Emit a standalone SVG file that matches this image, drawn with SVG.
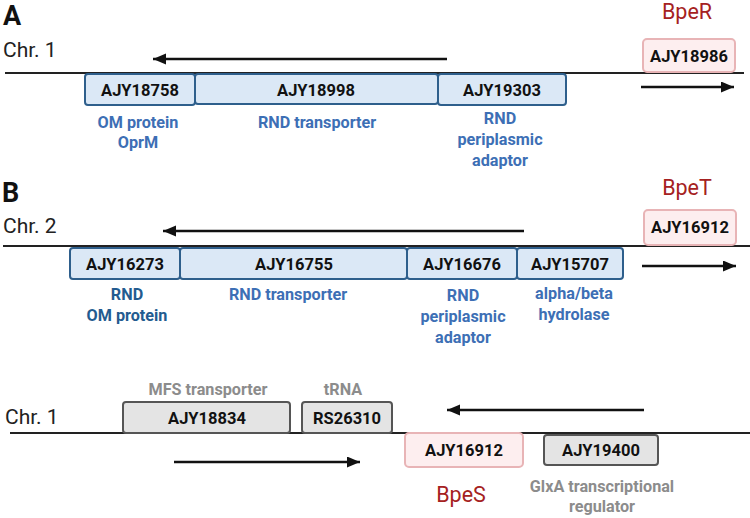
<svg xmlns="http://www.w3.org/2000/svg" width="750" height="518" viewBox="0 0 750 518">
<defs>
<style>
text{font-family:Roboto,"Liberation Sans",Arial,sans-serif}
.panel{font-size:27px;font-weight:bold;fill:#111}
.chr{font-size:21px;fill:#222}
.chrline{stroke:#222;stroke-width:2.2;fill:none}
.arr{stroke:#111;stroke-width:2.6;fill:none;marker-end:url(#ah)}
.blue{fill:#dbe8f6;stroke:#2e5f8c;stroke-width:2}
.pink{fill:#fdeeef;stroke:#e8b4b6;stroke-width:2}
.gray{fill:#e4e4e4;stroke:#555;stroke-width:2}
.bl{font-size:16.5px;font-weight:bold;fill:#111;text-anchor:middle}
.lab{font-size:16.2px;font-weight:bold;fill:#3d6fb5;text-anchor:middle}
.labd{font-size:16.2px;font-weight:bold;fill:#235b8f;text-anchor:middle}
.labg{font-size:16.2px;font-weight:bold;fill:#8c8c8c;text-anchor:middle}
.red{font-size:21.5px;fill:#a52121;text-anchor:middle}
</style>
<marker id="ah" markerUnits="userSpaceOnUse" markerWidth="14" markerHeight="12" refX="13" refY="5.5" orient="auto">
<path d="M0,0 L13,5.5 L0,11 z" fill="#111"/>
</marker>
</defs>
<rect width="750" height="518" fill="#fff"/>

<!-- Panel A -->
<text class="panel" x="3" y="25">A</text>
<text class="chr" x="3" y="57">Chr. 1</text>
<line class="chrline" x1="5" y1="73" x2="744" y2="73"/>

<g id="connectors">
<line class="arr" x1="447" y1="59" x2="153" y2="59"/>
<line class="arr" x1="641" y1="87" x2="734" y2="87"/>
<line class="arr" x1="524" y1="231" x2="163" y2="231"/>
<line class="arr" x1="642" y1="266" x2="736" y2="266"/>
<line class="arr" x1="644" y1="410" x2="447" y2="410"/>
<line class="arr" x1="174" y1="462" x2="360" y2="462"/>
</g>

<g id="AJY18758"><rect class="blue" x="85" y="74" width="110" height="31" rx="3"/><text class="bl" x="140" y="96">AJY18758</text></g>
<g id="AJY18998"><rect class="blue" x="195" y="74" width="243" height="30" rx="3"/><text class="bl" x="316" y="96">AJY18998</text></g>
<g id="AJY19303"><rect class="blue" x="438" y="74" width="128" height="31" rx="3"/><text class="bl" x="502" y="96">AJY19303</text></g>
<g id="AJY18986"><rect class="pink" x="643" y="39" width="92" height="33" rx="4"/><text class="bl" x="689" y="62">AJY18986</text></g>
<text class="red" x="687" y="19">BpeR</text>
<text class="lab" x="138" y="128">OM protein</text>
<text class="lab" x="138" y="148">OprM</text>
<text class="lab" x="317" y="128">RND transporter</text>
<text class="lab" x="500" y="124">RND</text>
<text class="lab" x="500" y="145">periplasmic</text>
<text class="lab" x="500" y="166">adaptor</text>

<!-- Panel B -->
<text class="panel" x="2" y="202">B</text>
<text class="chr" x="3" y="233">Chr. 2</text>
<line class="chrline" x1="3" y1="246" x2="750" y2="246"/>

<g id="AJY16273"><rect class="blue" x="70" y="248" width="110" height="31" rx="3"/><text class="bl" x="125" y="270">AJY16273</text></g>
<g id="AJY16755"><rect class="blue" x="180" y="248" width="227" height="31" rx="3"/><text class="bl" x="294" y="270">AJY16755</text></g>
<g id="AJY16676"><rect class="blue" x="407" y="248" width="110" height="31" rx="3"/><text class="bl" x="462" y="270">AJY16676</text></g>
<g id="AJY15707"><rect class="blue" x="517" y="248" width="106" height="31" rx="3"/><text class="bl" x="570" y="270">AJY15707</text></g>
<g id="AJY16912_T"><rect class="pink" x="644" y="210" width="92" height="35" rx="4"/><text class="bl" x="690" y="233">AJY16912</text></g>
<text class="red" x="687" y="195">BpeT</text>
<text class="labd" x="127" y="300">RND</text>
<text class="labd" x="127" y="321">OM protein</text>
<text class="lab" x="288" y="300">RND transporter</text>
<text class="lab" x="463" y="301">RND</text>
<text class="lab" x="463" y="322">periplasmic</text>
<text class="lab" x="463" y="343">adaptor</text>
<text class="lab" x="574" y="299">alpha/beta</text>
<text class="lab" x="574" y="320">hydrolase</text>

<!-- Bottom Chr. 1 -->
<text class="chr" x="5" y="424">Chr. 1</text>
<line class="chrline" x1="10" y1="433" x2="750" y2="433"/>
<g id="AJY18834"><rect class="gray" x="123" y="402" width="167" height="31" rx="3"/><text class="bl" x="207" y="424">AJY18834</text></g>
<g id="RS26310"><rect class="gray" x="302" y="402" width="90" height="31" rx="3"/><text class="bl" x="347" y="424">RS26310</text></g>
<g id="AJY16912_S"><rect class="pink" x="405" y="433" width="118" height="34" rx="4"/><text class="bl" x="464" y="456">AJY16912</text></g>
<g id="AJY19400"><rect class="gray" x="544" y="435" width="114" height="30" rx="3"/><text class="bl" x="601" y="456">AJY19400</text></g>
<text class="labg" x="208" y="395">MFS transporter</text>
<text class="labg" x="343" y="395">tRNA</text>
<text class="red" x="461" y="502">BpeS</text>
<text class="labg" x="602" y="492">GlxA transcriptional</text>
<text class="labg" x="602" y="512">regulator</text>
</svg>
